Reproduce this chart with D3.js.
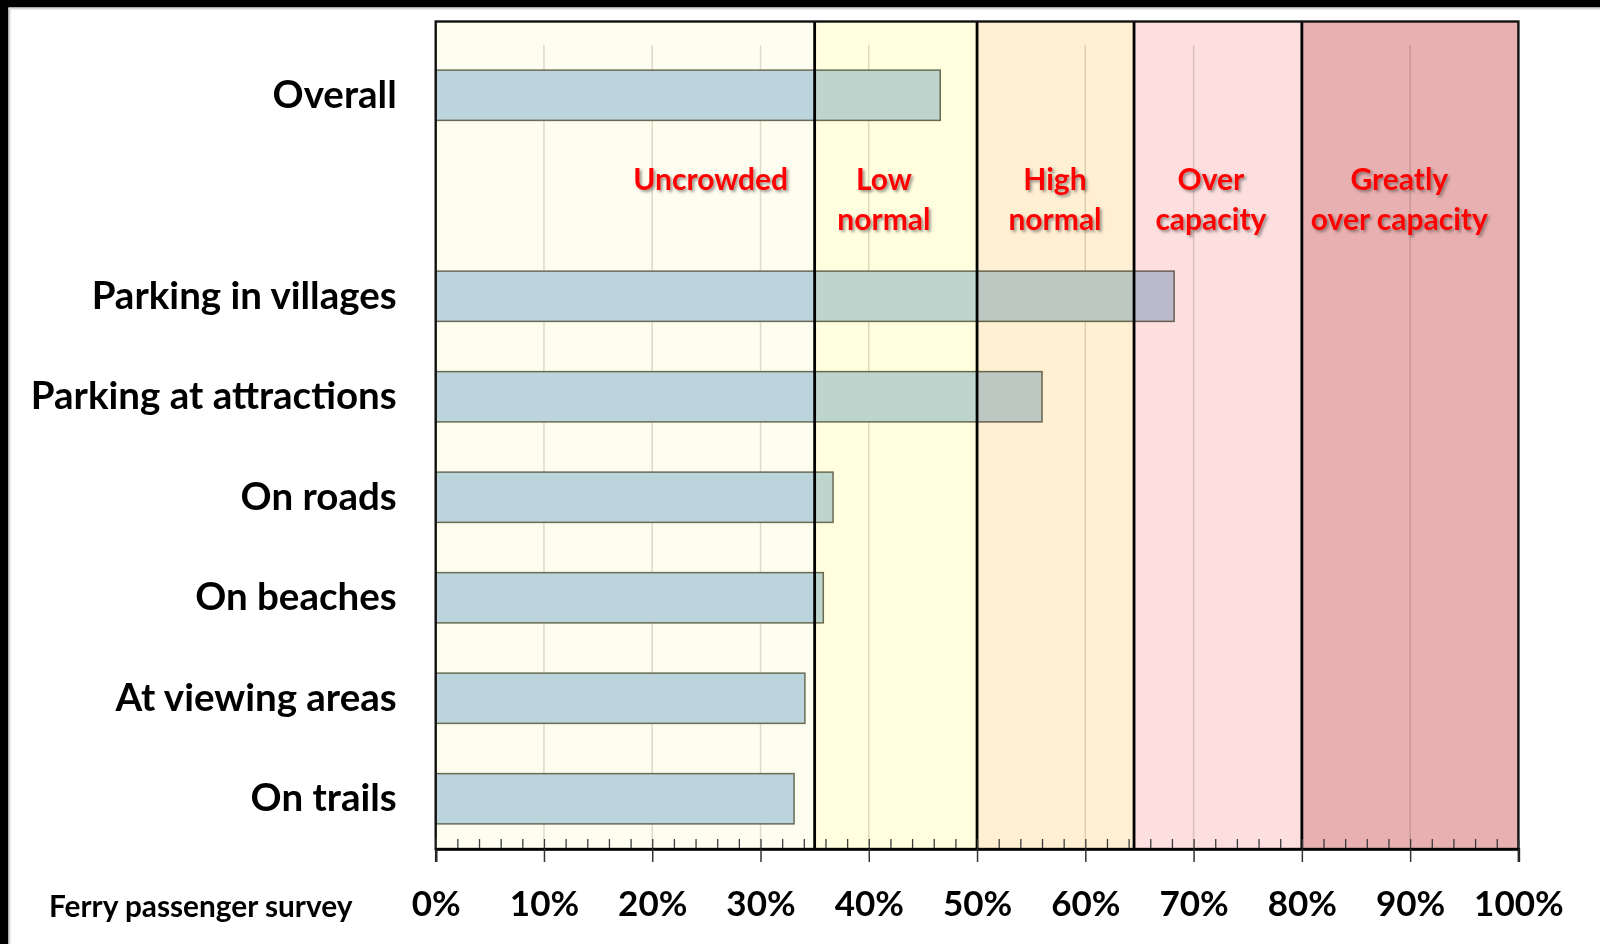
<!DOCTYPE html>
<html>
<head>
<meta charset="utf-8">
<script src="https://cdn.jsdelivr.net/npm/d3@7"></script>
<style>
  html, body { margin: 0; padding: 0; background: #fff; }
  svg { display: block; }
  text { font-family: Lato, "Open Sans", sans-serif; }
</style>
</head>
<body>
<svg id="chart" width="1600" height="944"></svg>
<script>
// ---- data ----
const categories = ["Overall", "", "Parking in villages", "Parking at attractions", "On roads", "On beaches", "At viewing areas", "On trails"];
const values = [46.6, null, 68.2, 56.0, 36.7, 35.8, 34.1, 33.1];
const bandStarts = [0, 35, 50, 64.5, 80];
const bandEnds = [35, 50, 64.5, 80, 100];
const bandLabels = [["Uncrowded"], ["Low", "normal"], ["High", "normal"], ["Over", "capacity"], ["Greatly", "over capacity"]];
const bandLabelAt = [25.4, 41.4, 57.2, 71.6, 89.0];
const bandColors = ["#fefef0", "#ffffe0", "#fff0d4", "#fddfe0", "#e8b0b0"];
const majorTicks = [0, 10, 20, 30, 40, 50, 60, 70, 80, 90, 100];
const minorTicks = d3.range(0, 101, 2);
const footnote = "Ferry passenger survey";

// ---- layout ----
const svg = d3.select("#chart");
const pLeft = 435.7, pRight = 1518.4, pTop = 21.5, barTop = 45, pBottom = 849;
const x = d3.scaleLinear().domain([0, 100]).range([pLeft, pRight]);
const y = d3.scaleBand().domain(categories).range([barTop, pBottom]).paddingInner(0.5).paddingOuter(0.25);

svg.append("rect").attr("width", 1600).attr("height", 944).attr("fill", "#fff");

// gridlines
svg.append("g").selectAll("line").data(majorTicks.filter(d => d > 0 && d < 100)).join("line")
  .attr("x1", d => x(d)).attr("x2", d => x(d))
  .attr("y1", barTop).attr("y2", pBottom)
  .attr("stroke", "#dcdcd4").attr("stroke-width", 1.5);

// bars
svg.append("g").selectAll("rect").data(categories.map((c, i) => ({c, v: values[i]})).filter(d => d.v != null)).join("rect")
  .attr("x", x(0)).attr("y", d => y(d.c))
  .attr("width", d => x(d.v) - x(0)).attr("height", y.bandwidth())
  .attr("fill", "#bdd5ea").attr("stroke", "#6a6a5c").attr("stroke-width", 1.5);

// colour bands (multiplied on top)
svg.append("g").selectAll("rect").data(bandStarts.map((s, i) => ({s, e: bandEnds[i], col: bandColors[i]}))).join("rect")
  .attr("x", d => x(d.s)).attr("y", pTop)
  .attr("width", d => x(d.e) - x(d.s)).attr("height", pBottom - pTop)
  .attr("fill", d => d.col)
  .style("mix-blend-mode", "multiply");

// band boundaries
svg.append("g").selectAll("line").data(bandStarts.slice(1)).join("line")
  .attr("x1", d => x(d)).attr("x2", d => x(d))
  .attr("y1", pTop).attr("y2", pBottom)
  .attr("stroke", "#000").attr("stroke-width", 2.8);
svg.append("rect").attr("x", pLeft).attr("y", pTop).attr("width", pRight - pLeft).attr("height", pBottom - pTop)
  .attr("fill", "none").attr("stroke", "#111").attr("stroke-width", 2.4);

// minor ticks (inside)
const minorAxis = d3.axisBottom(x).tickValues(minorTicks).tickSize(-10).tickFormat("");
const gMinor = svg.append("g").attr("transform", `translate(0,${pBottom})`).call(minorAxis);
gMinor.select(".domain").remove();
gMinor.selectAll(".tick line").attr("stroke", "#3a3a3a").attr("stroke-width", 1.3);

// major axis
const xAxis = d3.axisBottom(x).tickValues(majorTicks).tickSize(13).tickPadding(20).tickFormat(d => d + "%");
const gx = svg.append("g").attr("transform", `translate(0,${pBottom})`).call(xAxis);
gx.select(".domain").attr("stroke", "#000").attr("stroke-width", 2.5);
gx.selectAll(".tick line").attr("stroke", "#333").attr("stroke-width", 1.5);
gx.selectAll(".tick text").attr("font-family", "Lato, sans-serif").attr("font-size", 35).attr("font-weight", 700)
  .attr("fill", "#000").attr("dy", null).attr("y", 53).attr("dominant-baseline", "central");

// category axis
const yAxis = d3.axisLeft(y).tickSize(0).tickPadding(39);
const gy = svg.append("g").attr("transform", `translate(${pLeft},0)`).call(yAxis);
gy.select(".domain").remove();
gy.selectAll(".tick text").attr("font-family", "Lato, sans-serif").attr("font-size", 38.5).attr("font-weight", 700)
  .attr("fill", "#000").attr("dy", -2.5).attr("dominant-baseline", "central");

// band labels with shadow
const defs = svg.append("defs");
defs.append("filter").attr("id", "shadow").attr("x", "-20%").attr("y", "-40%").attr("width", "140%").attr("height", "180%")
  .append("feDropShadow").attr("dx", 2).attr("dy", 2).attr("stdDeviation", 1.4)
  .attr("flood-color", "#404040").attr("flood-opacity", 0.55);

const labelCenter = y("") + y.bandwidth() / 2 + 2;
const lineGap = 39.5;
const gl = svg.append("g");
bandLabels.forEach((lines, i) => {
  lines.forEach((t, j) => {
    gl.append("text")
      .attr("x", x(bandLabelAt[i]))
      .attr("y", labelCenter - lineGap / 2 + j * lineGap)
      .attr("text-anchor", "middle").attr("dominant-baseline", "central")
      .attr("font-size", 30).attr("font-weight", 700).attr("fill", "#ff0000")
      .attr("filter", "url(#shadow)")
      .text(t);
  });
});

// footnote
svg.append("text").attr("x", 49).attr("y", 905).attr("dominant-baseline", "central")
  .attr("font-size", 29.8).attr("font-weight", 700).attr("fill", "#000").text(footnote);

// frame (black border top/left)
svg.append("rect").attr("x", 0).attr("y", 0).attr("width", 1600).attr("height", 7.5).attr("fill", "#000");
svg.append("rect").attr("x", 0).attr("y", 0).attr("width", 8.5).attr("height", 944).attr("fill", "#000");
svg.append("line").attr("x1", 8.5).attr("x2", 1600).attr("y1", 8.5).attr("y2", 8.5).attr("stroke", "#d8d8d8").attr("stroke-width", 2);
svg.append("line").attr("x1", 9.5).attr("x2", 9.5).attr("y1", 8).attr("y2", 944).attr("stroke", "#d8d8d8").attr("stroke-width", 2);
</script>
</body>
</html>
